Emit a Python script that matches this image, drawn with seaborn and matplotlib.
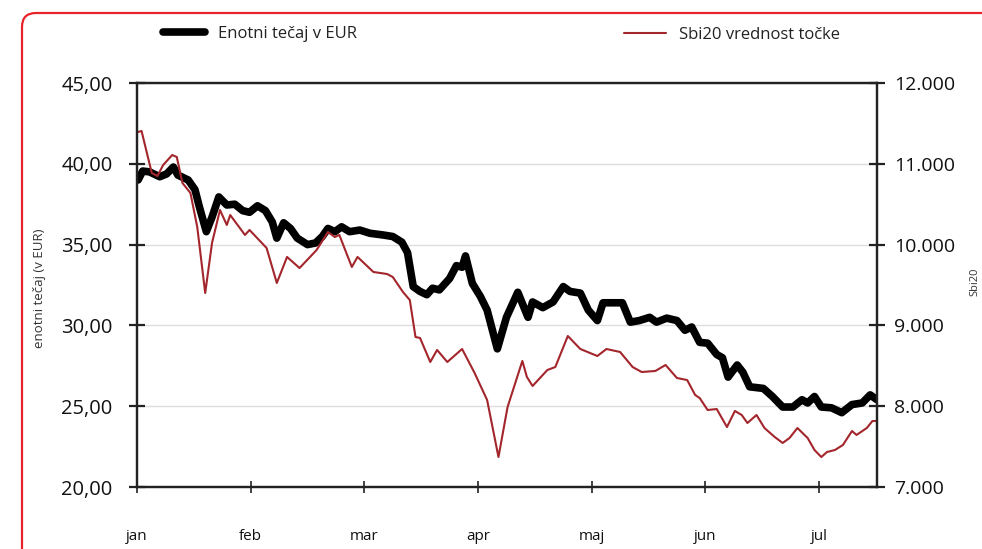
import matplotlib
matplotlib.use("Agg")
import matplotlib.pyplot as plt
import seaborn as sns
import pandas as pd
from matplotlib.patches import FancyBboxPatch
from matplotlib.ticker import FuncFormatter, FixedLocator

# ---------------- data ----------------
month_labels = ["jan", "feb", "mar", "apr", "maj", "jun", "jul"]

price_x = [0.01, 0.05, 0.11, 0.20, 0.26, 0.32, 0.36, 0.45, 0.51, 0.55, 0.61, 0.66, 0.72, 0.79, 0.86,
           0.93, 0.99, 1.06, 1.13, 1.19, 1.23, 1.29, 1.35, 1.41, 1.50, 1.57, 1.63, 1.68, 1.74, 1.80,
           1.87, 1.96, 2.05, 2.16, 2.25, 2.33, 2.38, 2.43, 2.49, 2.55, 2.60, 2.66, 2.75, 2.81, 2.86,
           2.89, 2.95, 3.02, 3.08, 3.17, 3.25, 3.35, 3.44, 3.48, 3.57, 3.66, 3.75, 3.81, 3.90, 3.97,
           4.05, 4.10, 4.19, 4.27, 4.34, 4.42, 4.51, 4.57, 4.66, 4.75, 4.82, 4.88, 4.95, 5.02, 5.10,
           5.15, 5.20, 5.28, 5.33, 5.39, 5.51, 5.59, 5.68, 5.77, 5.85, 5.90, 5.96, 6.02, 6.11, 6.20,
           6.29, 6.38, 6.45, 6.51]
price_eur = [39.0, 39.55, 39.5, 39.2, 39.37, 39.8, 39.3, 39.0, 38.4, 37.3, 35.8, 36.7, 37.95, 37.45, 37.5,
             37.1, 37.0, 37.4, 37.1, 36.4, 35.4, 36.35, 36.0, 35.4, 35.0, 35.1, 35.5, 36.0, 35.8, 36.1,
             35.8, 35.9, 35.7, 35.6, 35.5, 35.15, 34.5, 32.4, 32.1, 31.9, 32.3, 32.2, 32.9, 33.7, 33.6,
             34.3, 32.6, 31.8, 30.95, 28.55, 30.5, 32.05, 30.5, 31.45, 31.1, 31.45, 32.4, 32.1, 32.0, 30.95,
             30.3, 31.4, 31.4, 31.4, 30.2, 30.3, 30.5, 30.2, 30.45, 30.3, 29.7, 29.9, 28.95, 28.9, 28.2,
             28.0, 26.8, 27.55, 27.1, 26.2, 26.1, 25.6, 24.95, 24.95, 25.4, 25.2, 25.6, 24.95, 24.9, 24.6,
             25.1, 25.2, 25.7, 25.4]

sbi_x = [0.01, 0.04, 0.13, 0.18, 0.23, 0.31, 0.35, 0.40, 0.47, 0.53, 0.60, 0.66, 0.73, 0.79, 0.82,
         0.95, 0.99, 1.14, 1.23, 1.32, 1.43, 1.58, 1.68, 1.74, 1.78, 1.89, 1.94, 2.08, 2.20, 2.25,
         2.34, 2.40, 2.45, 2.49, 2.58, 2.64, 2.73, 2.86, 2.97, 3.08, 3.18, 3.26, 3.39, 3.43, 3.48,
         3.61, 3.68, 3.79, 3.90, 4.05, 4.13, 4.25, 4.36, 4.44, 4.56, 4.65, 4.75, 4.84, 4.91, 4.95,
         5.02, 5.10, 5.19, 5.26, 5.32, 5.37, 5.45, 5.52, 5.61, 5.68, 5.74, 5.81, 5.90, 5.96, 6.02,
         6.07, 6.14, 6.21, 6.29, 6.33, 6.42, 6.47, 6.51]
sbi_points = [11394, 11406, 10886, 10849, 10985, 11109, 11084, 10762, 10639, 10218, 9401, 10020, 10428, 10243, 10366,
              10119, 10181, 9958, 9525, 9847, 9710, 9933, 10156, 10094, 10119, 9723, 9847, 9661, 9636, 9599,
              9413, 9314, 8857, 8844, 8547, 8696, 8547, 8708, 8411, 8077, 7371, 7990, 8560, 8362, 8250,
              8448, 8485, 8869, 8708, 8621, 8708, 8671, 8485, 8423, 8436, 8510, 8349, 8324, 8139, 8101,
              7953, 7965, 7742, 7941, 7891, 7792, 7891, 7730, 7619, 7545, 7606, 7730, 7606, 7458, 7371,
              7433, 7458, 7520, 7693, 7644, 7730, 7817, 7817]

left_ticks = [20, 25, 30, 35, 40, 45]
right_ticks = [7000, 8000, 9000, 10000, 11000, 12000]

df_price = pd.DataFrame({"x": price_x, "y": price_eur})
df_sbi = pd.DataFrame({"x": sbi_x, "y": sbi_points})

# ---------------- style ----------------
sns.set_theme(style="white")
plt.rcParams["font.family"] = ["Open Sans", "DejaVu Sans"]
narrow = ["Liberation Sans Narrow", "Open Sans", "DejaVu Sans"]

fig = plt.figure(figsize=(9.82, 5.49), dpi=100)
ax = fig.add_axes([137 / 982, 1 - 487 / 549, 740 / 982, 404 / 549])
ax2 = ax.twinx()

sns.lineplot(data=df_price, x="x", y="y", ax=ax, color="black", linewidth=5.5,
             label="Enotni tečaj v EUR", legend=False)
sns.lineplot(data=df_sbi, x="x", y="y", ax=ax2, color="#a3262c", linewidth=1.5,
             label="Sbi20 vrednost točke", legend=False)

ax.set_xlim(0, 6.51)
ax.set_ylim(20, 45)
ax2.set_ylim(7000, 12000)

ax.yaxis.set_major_locator(FixedLocator(left_ticks))
ax2.yaxis.set_major_locator(FixedLocator(right_ticks))
ax.yaxis.set_major_formatter(FuncFormatter(lambda v, p: f"{v:.2f}".replace(".", ",")))
ax2.yaxis.set_major_formatter(FuncFormatter(lambda v, p: f"{int(v):,}".replace(",", ".")))
ax.set_xticks(range(len(month_labels)))
ax.set_xticklabels(month_labels, fontfamily=narrow, fontsize=11)

ax.set_xlabel("")
ax.set_ylabel("")
ax2.set_ylabel("")

ax.grid(axis="y", color="#dddddd", linewidth=1)
ax.grid(axis="x", visible=False)
ax2.grid(False)

for a in (ax, ax2):
    for s in a.spines.values():
        s.set_color("#222222")
        s.set_linewidth(1.6)

ax.tick_params(axis="y", direction="inout", length=11, width=1.6, color="#222222",
               labelsize=14.5, pad=12, left=True, labelcolor="#111111")
ax2.tick_params(axis="y", direction="inout", length=11, width=1.6, color="#222222",
                labelsize=14, pad=7, right=True, labelcolor="#111111")
ax.tick_params(axis="x", direction="inout", length=8, width=1.2, color="#222222",
               pad=26, bottom=True, labelcolor="#111111")

# axis titles
fig.text(40 / 982, 1 - 288 / 549, "enotni tečaj (v EUR)", rotation=90, ha="center", va="center",
         fontsize=9.5, color="#333333")
fig.text(975 / 982, 1 - 282 / 549, "Sbi20", rotation=90, ha="center", va="center",
         fontsize=8, color="#333333")

# legends
h1 = ax.get_lines()[0]
h2 = ax2.get_lines()[0]
leg1 = fig.legend([h1], ["Enotni tečaj v EUR"], loc="center left",
                  bbox_to_anchor=(163 / 982, 1 - 34 / 549), frameon=False,
                  borderpad=0, borderaxespad=0, handlelength=2.5, handletextpad=0.8,
                  prop={"family": narrow, "size": 12})
leg2 = fig.legend([h2], ["Sbi20 vrednost točke"], loc="center left",
                  bbox_to_anchor=(624 / 982, 1 - 35 / 549), frameon=False,
                  borderpad=0, borderaxespad=0, handlelength=2.5, handletextpad=0.8,
                  prop={"family": narrow, "size": 12})
for t in leg1.get_texts() + leg2.get_texts():
    t.set_color("#222222")

# red rounded frame
frame = FancyBboxPatch((0.22, -0.6), 10.5, 5.96,
                       boxstyle="round,pad=0,rounding_size=0.14",
                       transform=fig.dpi_scale_trans, fill=False,
                       edgecolor="#e8232a", linewidth=1.6)
fig.patches.append(frame)

fig.savefig("out.png", dpi=100)
